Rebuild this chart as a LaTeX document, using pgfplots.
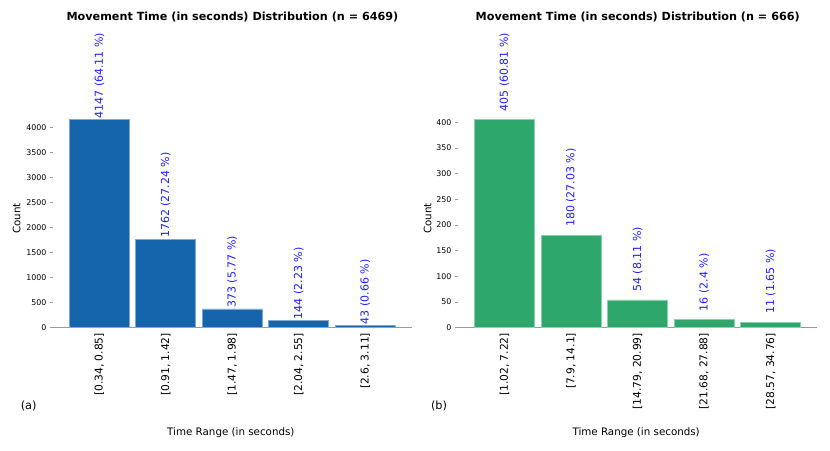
\documentclass[border=0pt]{standalone}
\usepackage{fontspec}
\setmainfont{DejaVu Sans}
\usepackage{pgfplots}
\pgfplotsset{compat=1.18}
\definecolor{barblue}{HTML}{1565AD}
\definecolor{bargreen}{HTML}{2EA76C}
\definecolor{lblblue}{HTML}{1F1FFF}
\definecolor{axgray}{HTML}{999999}
\pgfplotsset{
  mystyle/.style={
    scale only axis,
    anchor=south west,
    height=218.3bp,
    ymin=0,
    xmin=-0.742, xmax=4.70,
    axis x line*=bottom,
    axis y line*=left,
    x axis line style={draw=axgray, line width=1.2bp},
    y axis line style={draw=none},
    xtick={0,1,2,3,4},
    xtick style={draw=none},
    ytick style={draw=axgray, line width=0.6bp},
    ytick align=inside,
    major tick length=2.7bp,
    xticklabel style={font=\fontsize{10.7bp}{12bp}\selectfont, inner sep=0pt, yshift=-2.4bp, rotate=90, anchor=east},
    yticklabel style={font=\fontsize{7.9bp}{9bp}\selectfont, inner sep=0pt, xshift=-3.3bp},
    /pgf/number format/assume math mode=true,
    /pgf/number format/1000 sep={},
    scaled y ticks=false,
    ybar,
    bar width=0.9,
    clip=false,
    nodes near coords,
    point meta=explicit symbolic,
    every node near coord/.append style={font=\fontsize{11bp}{12bp}\selectfont, color=lblblue, rotate=90, anchor=west, inner sep=0pt},
    xlabel={Time Range (in seconds)},
    ylabel={Count},
    label style={font=\fontsize{10.3bp}{12bp}\selectfont},
    xlabel style={at={(rel axis cs:0.5,0)}, anchor=center, yshift=-105bp},
    title style={font=\fontsize{11.2bp}{13bp}\selectfont\bfseries, at={(rel axis cs:0.5,1)}, anchor=center, yshift=86.7bp, xshift=1.6bp},
  }
}
\begin{document}
\begin{tikzpicture}
\useasboundingbox (0,0) rectangle (830bp,451bp);
\begin{axis}[mystyle,
  at={(50bp,123.3bp)}, width=361.7bp,
  ymax=4354.35,
  ytick={0,500,...,4000},
  xticklabels={{[0.34, 0.85]},{[0.91, 1.42]},{[1.47, 1.98]},{[2.04, 2.55]},{[2.6, 3.11]}},
  ylabel style={at={(rel axis cs:0,0.5)}, anchor=center, yshift=33.3bp},
  every node near coord/.append style={xshift=1bp},
  title={Movement Time (in seconds) Distribution (n = 6469)},
]
\addplot[fill=barblue, draw=barblue!55!white, line width=0.8bp] coordinates {
  (0,4147) [4147 (64.11 \%)]
  (1,1762) [1762 (27.24 \%)]
  (2,373) [373 (5.77 \%)]
  (3,144) [144 (2.23 \%)]
  (4,43) [43 (0.66 \%)]
};
\node[font=\fontsize{11.3bp}{13bp}\selectfont, anchor=center] at (rel axis cs:0,0) [xshift=-21.3bp, yshift=-78.3bp] {(a)};
\end{axis}
\begin{axis}[mystyle,
  at={(455bp,123.3bp)}, width=362.3bp,
  ymax=425.25,
  ytick={0,50,...,400},
  xticklabels={{[1.02, 7.22]},{[7.9, 14.1]},{[14.79, 20.99]},{[21.68, 27.88]},{[28.57, 34.76]}},
  ylabel style={at={(rel axis cs:0,0.5)}, anchor=center, yshift=27.3bp},
  every node near coord/.append style={xshift=8bp},
  title={Movement Time (in seconds) Distribution (n = 666)},
]
\addplot[fill=bargreen, draw=bargreen!55!white, line width=0.8bp] coordinates {
  (0,405) [405 (60.81 \%)]
  (1,180) [180 (27.03 \%)]
  (2,54) [54 (8.11 \%)]
  (3,16) [16 (2.4 \%)]
  (4,11) [11 (1.65 \%)]
};
\node[font=\fontsize{11.3bp}{13bp}\selectfont, anchor=center] at (rel axis cs:0,0) [xshift=-16bp, yshift=-78.3bp] {(b)};
\end{axis}
\end{tikzpicture}
\end{document}
